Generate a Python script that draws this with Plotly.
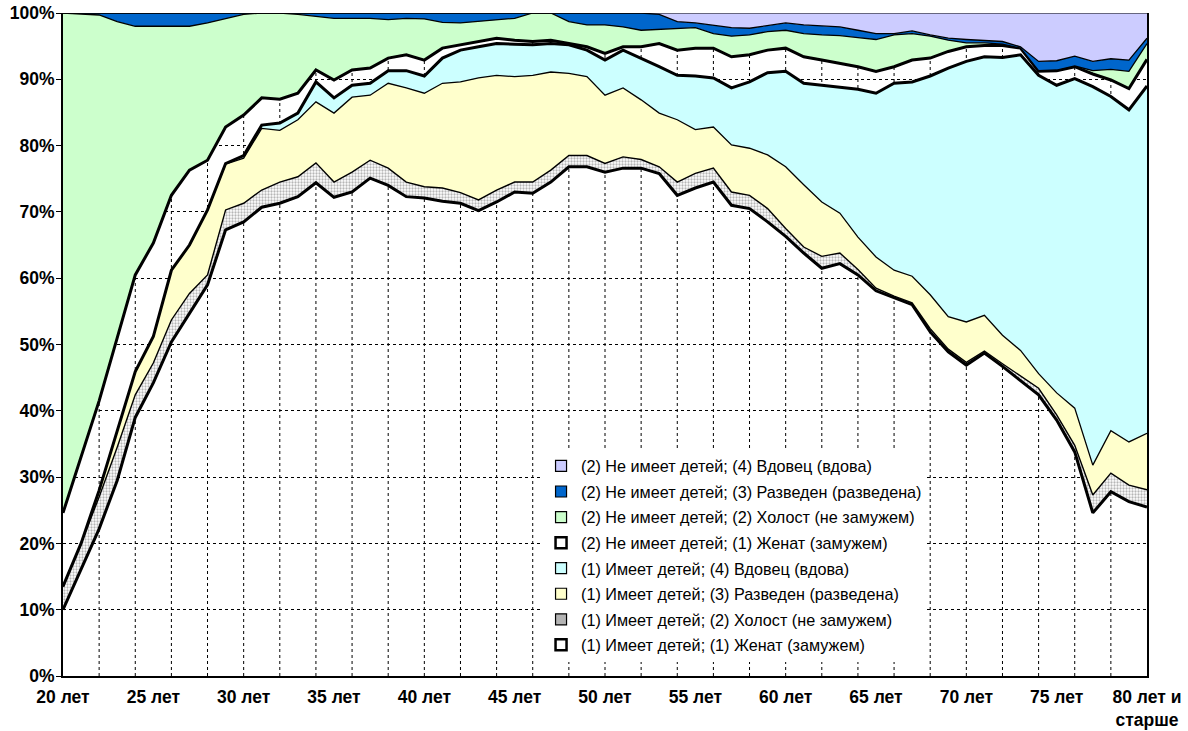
import plotly.graph_objects as go

ages = list(range(20, 81))
tick_vals = [20, 25, 30, 35, 40, 45, 50, 55, 60, 65, 70, 75, 80]
tick_text = ["20 лет", "25 лет", "30 лет", "35 лет", "40 лет", "45 лет", "50 лет",
             "55 лет", "60 лет", "65 лет", "70 лет", "75 лет", "80 лет и<br>старше"]
y_ticks = [0, 10, 20, 30, 40, 50, 60, 70, 80, 90, 100]

names = [
    "(1) Имеет детей; (1) Женат (замужем)",
    "(1) Имеет детей; (2) Холост (не замужем)",
    "(1) Имеет детей; (3) Разведен (разведена)",
    "(1) Имеет детей; (4) Вдовец (вдова)",
    "(2) Не имеет детей; (1) Женат (замужем)",
    "(2) Не имеет детей; (2) Холост (не замужем)",
    "(2) Не имеет детей; (3) Разведен (разведена)",
    "(2) Не имеет детей; (4) Вдовец (вдова)",
]

# shares in percent, ages 20..80
s1 = [10.0, 16.0, 22.2, 29.5, 39.0, 44.2, 50.4, 54.7, 59.0, 67.3,
      68.5, 70.7, 71.3, 72.3, 74.4, 72.2, 73.0, 75.1, 74.0, 72.3,
      72.1, 71.6, 71.3, 70.2, 71.5, 73.0, 72.8, 74.5, 76.8, 76.8,
      76.0, 76.6, 76.6, 75.8, 72.5, 73.6, 74.5, 71.0, 70.5, 68.5,
      66.3, 63.8, 61.5, 62.2, 60.5, 58.1, 57.0, 56.0, 51.9, 48.9,
      46.9, 48.7, 46.7, 44.6, 42.4, 38.6, 33.8, 24.6, 27.8, 26.3, 25.5]
s2 = [3.5, 4.0, 4.8, 5.0, 3.4, 3.0, 3.3, 3.0, 1.5, 3.0,
      2.8, 2.6, 3.2, 3.0, 3.0, 2.3, 3.0, 2.7, 2.6, 2.2,
      1.7, 2.0, 1.6, 1.6, 1.8, 1.5, 1.7, 1.8, 1.7, 1.7,
      1.3, 1.7, 1.3, 1.0, 2.0, 2.2, 2.1, 2.0, 2.0, 2.0,
      1.2, 0.9, 1.8, 1.6, 0.8, 0.4, 0.3, 0.3, 0.5, 0.4,
      0.4, 0.3, 0.4, 0.6, 1.0, 0.8, 1.0, 2.7, 2.8, 2.5, 2.6]
s3 = [0.0, 0.0, 1.0, 2.5, 3.5, 4.0, 7.5, 7.3, 9.8, 6.9,
      6.8, 9.3, 7.8, 8.6, 9.2, 10.4, 11.3, 9.8, 12.8, 14.2,
      14.1, 15.8, 16.7, 18.4, 17.3, 15.9, 16.1, 14.8, 12.4, 11.9,
      10.3, 10.4, 9.0, 8.1, 9.4, 6.6, 6.2, 7.1, 7.1, 8.1,
      9.3, 9.4, 8.2, 6.0, 4.9, 4.7, 3.9, 4.0, 5.1, 4.9,
      6.1, 5.4, 4.3, 3.9, 2.2, 3.3, 5.6, 4.5, 6.4, 6.5, 8.5]
s4 = [0.0, 0.0, 0.0, 0.0, 0.0, 0.0, 0.0, 0.0, 0.0, 0.1,
      0.4, 0.5, 1.1, 1.0, 3.0, 2.3, 1.8, 1.8, 1.9, 2.6,
      2.6, 3.8, 4.8, 4.7, 4.8, 4.9, 4.6, 4.3, 4.3, 4.0,
      5.3, 5.7, 6.3, 7.0, 6.7, 8.1, 7.4, 8.6, 10.0, 12.4,
      14.4, 15.3, 17.6, 19.0, 22.3, 24.7, 28.2, 29.3, 33.0, 37.5,
      39.3, 39.0, 41.9, 44.6, 45.0, 46.4, 49.7, 57.1, 50.4, 50.1, 52.4]
s5 = [11.1, 13.0, 13.5, 14.0, 14.6, 14.1, 11.3, 11.3, 7.5, 5.5,
      6.1, 4.1, 3.6, 3.0, 1.8, 2.7, 2.3, 2.3, 1.9, 2.4,
      2.4, 1.5, 0.8, 0.8, 0.8, 0.6, 0.5, 0.5, 0.2, 0.5,
      1.0, 0.5, 1.7, 3.5, 3.8, 4.2, 4.5, 4.7, 4.1, 3.4,
      3.5, 4.0, 3.8, 3.6, 3.4, 3.3, 2.5, 3.3, 2.7, 2.5,
      2.2, 1.7, 1.8, 1.0, 0.6, 2.2, 1.8, 1.9, 2.5, 3.2, 4.0]
s6 = [75.4, 66.9, 58.2, 47.7, 37.5, 32.7, 25.5, 21.7, 20.7, 16.4,
      15.2, 12.8, 13.0, 11.9, 8.1, 9.3, 7.8, 7.5, 5.8, 5.5,
      6.2, 3.9, 3.3, 3.0, 2.7, 3.3, 4.3, 4.1, 3.3, 3.3,
      4.3, 3.0, 2.5, 2.1, 3.3, 3.1, 2.2, 3.1, 3.0, 2.8,
      2.7, 3.5, 3.8, 4.2, 4.4, 4.8, 4.8, 4.0, 3.3, 1.7,
      0.6, 0.4, 0.2, 0.0, 0.1, 0.1, 0.1, 0.5, 1.6, 2.6, 2.4]
s7 = [0.0, 0.1, 0.3, 1.3, 2.0, 2.0, 2.0, 2.0, 1.5, 0.8,
      0.2, 0.0, 0.0, 0.2, 0.5, 0.8, 0.8, 0.8, 1.0, 0.8,
      0.9, 1.4, 1.5, 1.3, 1.1, 0.8, 0.0, 0.0, 1.3, 1.8,
      1.8, 2.1, 2.6, 2.3, 1.0, 0.7, 1.3, 1.3, 1.0, 0.9,
      1.1, 1.3, 1.3, 1.3, 1.1, 0.9, 0.2, 0.4, 0.2, 0.3,
      0.5, 0.4, 0.4, 0.2, 1.4, 1.4, 1.5, 1.4, 1.6, 1.7, 0.8]
s8 = [0.0, 0.0, 0.0, 0.0, 0.0, 0.0, 0.0, 0.0, 0.0, 0.0,
      0.0, 0.0, 0.0, 0.0, 0.0, 0.0, 0.0, 0.0, 0.0, 0.0,
      0.0, 0.0, 0.0, 0.0, 0.0, 0.0, 0.0, 0.0, 0.0, 0.0,
      0.0, 0.0, 0.0, 0.2, 1.3, 1.5, 1.8, 2.2, 2.3, 1.9,
      1.5, 1.8, 2.0, 2.1, 2.6, 3.1, 3.1, 2.7, 3.3, 3.8,
      4.0, 4.1, 4.3, 5.1, 7.3, 7.2, 6.5, 7.3, 6.9, 7.1, 3.8]

series_values = [s1, s2, s3, s4, s5, s6, s7, s8]

fills = ["rgba(0,0,0,0)", "white", "#FFFFCC", "#CCFFFF",
         "rgba(0,0,0,0)", "#CCFFCC", "#0066CC", "#CCCCFF"]
line_w = [3, 1.4, 1.3, 3, 3, 1.3, 1.3, 1.2]
legend_fill = ["white", "#B4B4B4", "#FFFFCC", "#CCFFFF",
               "white", "#CCFFCC", "#0066CC", "#CCCCFF"]
legend_lw = [2.5, 1.2, 1.2, 1.2, 2.5, 1.2, 1.2, 1.2]

FONT = "Liberation Sans, Arial, sans-serif"

fig = go.Figure()
for i, vals in enumerate(series_values):
    kw = {}
    if i == 1:
        kw["fillpattern"] = dict(shape=".", fgcolor="#6e6e6e", bgcolor="white",
                                 size=3, solidity=0.45)
    fig.add_trace(go.Scatter(
        x=ages, y=vals, stackgroup="one", mode="lines",
        line=dict(color="black", width=line_w[i], shape="linear"),
        fillcolor=fills[i], showlegend=False, hoverinfo="skip", **kw))

# legend entries (top to bottom as in the reference)
for i in reversed(range(8)):
    fig.add_trace(go.Scatter(
        x=[None], y=[None], mode="markers", name=names[i], legendgroup=f"g{i}",
        marker=dict(symbol="square", size=11, color=legend_fill[i],
                    line=dict(color="black", width=legend_lw[i]))))

# vertical dashed gridlines every 2 years
for a in range(22, 80, 2):
    fig.add_shape(type="line", xref="x", yref="paper", x0=a, x1=a, y0=0, y1=1,
                  line=dict(color="black", width=1, dash="3px,3px"), layer="below")

fig.update_layout(
    width=1188, height=731,
    margin=dict(l=63, r=41, t=13, b=55, autoexpand=False),
    paper_bgcolor="white", plot_bgcolor="white",
    font=dict(family=FONT, color="black"),
    showlegend=True,
    legend=dict(x=0.441, y=0.3425, xanchor="left", yanchor="top",
                bgcolor="white", borderwidth=0, traceorder="grouped",
                tracegroupgap=1.5,
                font=dict(size=16.2, family=FONT, color="black"),
                itemclick=False),
    xaxis=dict(range=[20, 80], tickmode="array", tickvals=tick_vals, ticktext=tick_text,
               showgrid=False, zeroline=False, showline=True, linecolor="black",
               linewidth=2, ticks="", automargin=False, ticklabelstandoff=4,
               ticklabeloverflow="allow",
               tickfont=dict(size=17.5, family=FONT, weight="bold"),
               fixedrange=True),
    yaxis=dict(range=[0, 100], tickmode="array", tickvals=y_ticks,
               ticktext=[f"{v}%" for v in y_ticks],
               showgrid=True, gridcolor="black", gridwidth=1, griddash="3px,3px",
               zeroline=False, showline=True, linecolor="black", linewidth=2,
               mirror=True, ticks="outside", ticklen=5, tickcolor="black",
               automargin=False, ticklabelstandoff=-2, ticklabeloverflow="allow",
               tickfont=dict(size=17.5, family=FONT, weight="bold"), fixedrange=True),
)

fig.write_html("out.html", config={"displayModeBar": False},
               post_script="document.body.style.margin='0';document.body.style.padding='0';")
